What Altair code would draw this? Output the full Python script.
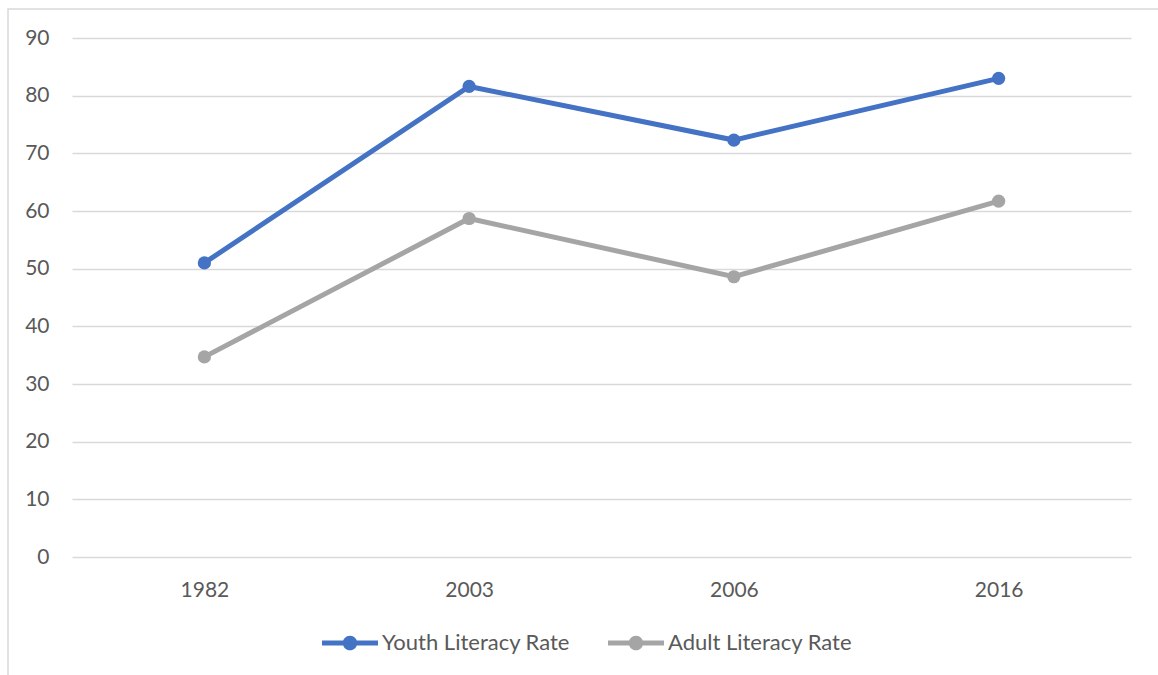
import altair as alt
import pandas as pd

years = ["1982", "2003", "2006", "2016"]
youth = [51.0, 81.6, 72.3, 83.0]
adult = [34.7, 58.7, 48.6, 61.7]
series_names = ["Youth Literacy Rate", "Adult Literacy Rate"]
series_colors = ["#4472C4", "#A5A5A5"]
y_ticks = [0, 10, 20, 30, 40, 50, 60, 70, 80, 90]

rows = []
for name, vals in zip(series_names, [youth, adult]):
    for yr, v in zip(years, vals):
        rows.append({"Year": yr, "Value": v, "Series": name})
df = pd.DataFrame(rows)

FONT = "Lato"
LABEL_COLOR = "#595959"
FS = 21

x_enc = alt.X("Year:N", sort=years,
              scale=alt.Scale(type="point", padding=0.5),
              axis=alt.Axis(title=None, labelAngle=0, domain=False, ticks=False,
                            grid=False, labelPadding=22, labelFontSize=FS,
                            labelColor=LABEL_COLOR, labelFont=FONT))
y_enc = alt.Y("Value:Q",
              scale=alt.Scale(domain=[0, 90], nice=False),
              axis=alt.Axis(title=None, values=y_ticks, domain=False, ticks=False,
                            grid=True, gridColor="#D9D9D9", gridWidth=1.3,
                            labelPadding=23, labelFontSize=FS,
                            labelColor=LABEL_COLOR, labelFont=FONT))

legend_path = ("M-1,-0.09 L1,-0.09 L1,0.09 L-1,0.09 Z "
               "M0.26,0 A0.26,0.26 0 1,1 -0.26,0 A0.26,0.26 0 1,1 0.26,0 Z")

color_enc = alt.Color("Series:N",
                      scale=alt.Scale(domain=series_names, range=series_colors),
                      sort=series_names,
                      legend=alt.Legend(title=None, orient="none", direction="horizontal",
                                        legendX=250, legendY=577,
                                        symbolType=legend_path, symbolSize=3136,
                                        symbolStrokeWidth=0, symbolOpacity=1,
                                        labelFontSize=22, labelFont=FONT,
                                        labelColor=LABEL_COLOR, labelOffset=4,
                                        labelLimit=400, columnPadding=38))

base = alt.Chart(df)

lines = base.mark_line(strokeWidth=5, strokeCap="round").encode(
    x=x_enc, y=y_enc, color=color_enc, detail="Series:N")
points = base.mark_point(filled=True, size=175, opacity=1).encode(
    x=x_enc, y=y_enc, color=color_enc)

border = alt.Chart(pd.DataFrame({"a": [0]})).mark_rect(
    fill=None, stroke="#D9D9D9", strokeWidth=1.5).encode(
    x=alt.value(-64), x2=alt.value(1200), y=alt.value(-29), y2=alt.value(700))

chart = alt.layer(border, lines, points).properties(
    width=1059, height=519,
    padding={"left": 72, "top": 38, "right": 27, "bottom": 118},
    autosize=alt.AutoSizeParams(type="none"),
    background="white",
).configure_view(stroke=None)

chart.save("out.html", embed_options={"renderer": "svg", "actions": False})
